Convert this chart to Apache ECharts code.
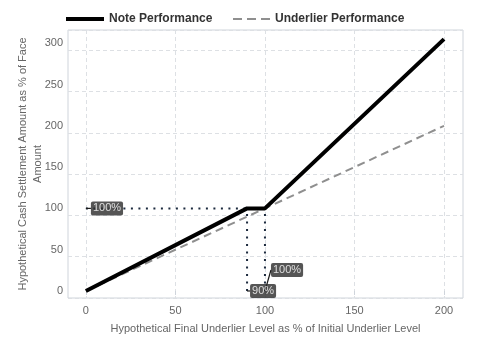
<!DOCTYPE html>
<html><head><meta charset="utf-8">
<script src="https://cdn.jsdelivr.net/npm/echarts@6/dist/echarts.min.js"></script>
<style>html,body{margin:0;padding:0;background:#fff}#c{width:480px;height:360px}</style>
</head><body><div id="c"></div>
<script>
const noteX = [0, 90, 100, 200];
const noteY = [0, 100, 100, 305];
const undX = [0, 200];
const undY = [0, 200];
const xTicks = [0, 50, 100, 150, 200];
const yTicks = [0, 50, 100, 150, 200, 250, 300];
const refH = [[0, 100], [90, 100]];
const refV1 = [[90, 0], [90, 100]];
const refV2 = [[100, 0], [100, 100]];
const labelPts = [[0, 100, '100%'], [90, 0, '90%'], [100, 0, '100%']];
const labelOffsets = [[5, 0], [3, 0], [6, -21]];

const font = "'Liberation Sans', Arial, sans-serif";
const zip = (a, b) => a.map((v, i) => [v, b[i]]);
const dotted = d => ({type: 'line', data: d, symbol: 'none', silent: true, z: 3,
  lineStyle: {color: '#1c2a3e', width: 2, type: [2, 5.5]}});
const legendText = {fontFamily: font, fontSize: 12, fontWeight: 'bold', color: '#333'};

const chart = echarts.init(document.getElementById('c'), null, {renderer: 'canvas'});
chart.setOption({
  animation: false,
  textStyle: {fontFamily: font},
  legend: [
    {data: [{name: 'Note Performance', icon: 'rect'}], top: 13, left: 66, padding: 0, itemWidth: 38, itemHeight: 4,
      itemGap: 6, textStyle: legendText, itemStyle: {color: '#000'}},
    {data: [{name: 'Underlier Performance', icon: 'path://M0,0h9v2h-9z M14,0h9v2h-9z M28,0h9v2h-9z'}],
      top: 13, left: 233, padding: 0, itemWidth: 37, itemHeight: 2, textStyle: legendText, itemStyle: {color: '#8f8f8f'}}
  ],
  grid: {left: 68, right: 17, top: 30, bottom: 62, show: true, borderColor: '#cfd4db', borderWidth: 1,
    outerBoundsMode: 'none', containLabel: false},
  xAxis: {
    type: 'value', min: -10, max: 210.6, interval: 50,
    name: 'Hypothetical Final Underlier Level as % of Initial Underlier Level',
    nameLocation: 'middle', nameGap: 25,
    nameTextStyle: {fontFamily: font, fontSize: 11, color: '#666'},
    axisLine: {show: false},
    axisTick: {show: true, length: 4, lineStyle: {color: '#cfd4db'}, customValues: xTicks},
    axisLabel: {fontFamily: font, fontSize: 11, color: '#666', margin: 7, customValues: xTicks,
      formatter: v => String(v)},
    splitLine: {show: true, lineStyle: {color: '#dde0e4', type: [4, 3]}}
  },
  yAxis: {
    type: 'value', min: -8.5, max: 316, interval: 50,
    name: 'Hypothetical Cash Settlement Amount as % of Face\nAmount',
    nameLocation: 'middle', nameGap: 23, nameRotate: 90,
    nameTextStyle: {fontFamily: font, fontSize: 11, color: '#666', lineHeight: 15, align: 'center'},
    nameMoveOverlap: false,
    axisLine: {show: false},
    axisTick: {show: false},
    axisLabel: {fontFamily: font, fontSize: 11, color: '#666', margin: 5, customValues: yTicks,
      formatter: v => String(v)},
    splitLine: {show: true, lineStyle: {color: '#dde0e4', type: [4, 3]}}
  },
  series: [
    {name: 'Underlier Performance', type: 'line', data: zip(undX, undY), symbol: 'none', z: 2,
      lineStyle: {color: '#8f8f8f', width: 2, type: [8, 5]}, itemStyle: {color: '#8f8f8f'}},
    dotted(refH), dotted(refV1), dotted(refV2),
    {name: 'Note Performance', type: 'line', data: zip(noteX, noteY), symbol: 'none', z: 4,
      lineStyle: {color: '#000', width: 4}, itemStyle: {color: '#000'}},
    {type: 'scatter', symbolSize: 0, z: 6, silent: true,
      data: labelPts.map(p => ({value: [p[0], p[1]], name: p[2]})),
      label: {show: true, formatter: p => p.name, position: 'right', distance: 0,
        fontFamily: font, fontSize: 11, color: '#fff', backgroundColor: '#2b2b2b',
        borderRadius: 2, padding: [2, 2, 1, 2]},
      labelLayout: params => ({dx: labelOffsets[params.dataIndex][0], dy: labelOffsets[params.dataIndex][1]}),
      labelLine: {show: true, length2: 0, lineStyle: {color: '#1a1a1a', width: 1.2}}
    }
  ]
});
</script></body></html>
